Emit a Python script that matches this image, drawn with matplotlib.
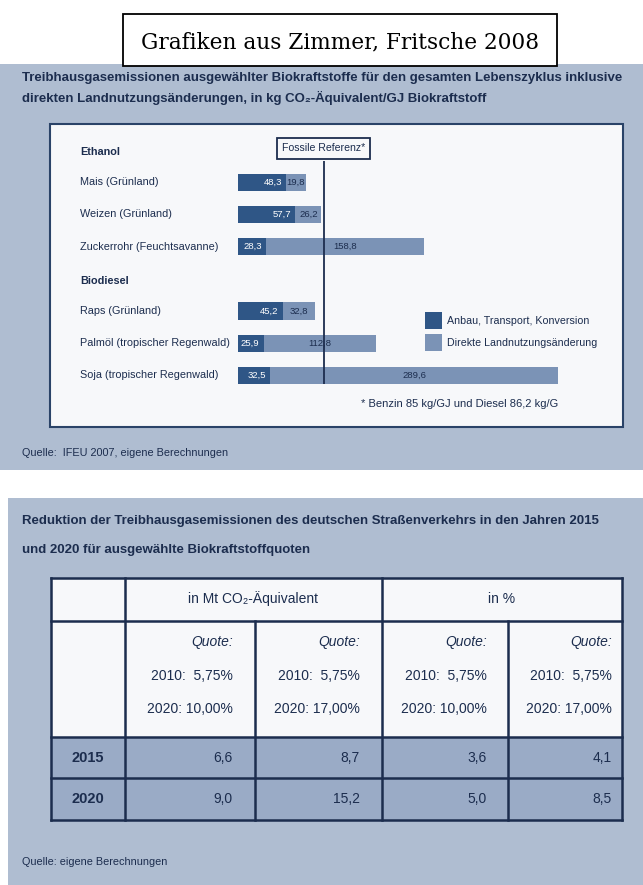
import matplotlib.pyplot as plt
from matplotlib.patches import Rectangle
from matplotlib.transforms import blended_transform_factory

plt.rcParams['font.family'] = ['Liberation Sans', 'DejaVu Sans']

# Daten oben: THG-Emissionen in kg CO2-Äq/GJ
groups = ['Ethanol', 'Biodiesel']
categories = ['Mais (Grünland)', 'Weizen (Grünland)', 'Zuckerrohr (Feuchtsavanne)',
              'Raps (Grünland)', 'Palmöl (tropischer Regenwald)', 'Soja (tropischer Regenwald)']
anbau = [48.3, 57.7, 28.3, 45.2, 25.9, 32.5]
landnutzung = [19.8, 26.2, 158.8, 32.8, 112.8, 289.6]
fossil_ref = 86.2
legend_labels = ['Anbau, Transport, Konversion', 'Direkte Landnutzungsänderung']

# Daten unten: Reduktion
years = ['2015', '2020']
mt_co2 = [[6.6, 8.7], [9.0, 15.2]]
prozent = [[3.6, 4.1], [5.0, 8.5]]
quote_2010 = ['5,75%', '5,75%', '5,75%', '5,75%']
quote_2020 = ['10,00%', '17,00%', '10,00%', '17,00%']

# Farben
PANEL = '#afbdd1'
BOX = '#f7f8fa'
NAVY = '#1c2d4e'
DARK = '#2f5686'
LIGHT = '#7b93b6'
ROWBG = '#9aabc6'

W, H = 643, 885
fig = plt.figure(figsize=(W / 100, H / 100), dpi=100)
bg = fig.add_axes([0, 0, 1, 1])
bg.set_xlim(0, W)
bg.set_ylim(H, 0)
bg.axis('off')

def komma(v):
    return f'{v:.1f}'.replace('.', ',')

# ---------- oberes Panel ----------
bg.add_patch(Rectangle((0, 64), W, 406, fc=PANEL, ec='none'))
bg.add_patch(Rectangle((123, 14), 434, 52, fc='white', ec='black', lw=1.3, zorder=3))
bg.text(340, 42, 'Grafiken aus Zimmer, Fritsche 2008', ha='center', va='center',
        fontsize=15.6, family='DejaVu Serif', zorder=4)

bg.text(22, 78, 'Treibhausgasemissionen ausgewählter Biokraftstoffe für den gesamten Lebenszyklus inklusive',
        fontsize=9.55, weight='bold', color=NAVY, va='center')
bg.text(22, 98, 'direkten Landnutzungsänderungen, in kg CO₂-Äquivalent/GJ Biokraftstoff',
        fontsize=9.55, weight='bold', color=NAVY, va='center')
bg.add_patch(Rectangle((50, 124), 573, 303, fc=BOX, ec='#2a4368', lw=1.5))
bg.text(22, 453, 'Quelle:  IFEU 2007, eigene Berechnungen', fontsize=7.8, color=NAVY, va='center')

# Balkendiagramm
x0, ppu, xmax = 238, 0.993, 335
y0, dy, ytop, ybot = 150, 32.2, -0.5, 7.6
ax = fig.add_axes([x0 / W, 1 - (y0 + ybot * dy) / H, xmax * ppu / W, (ybot - ytop) * dy / H])
ax.set_xlim(0, xmax)
ax.set_ylim(ybot, ytop)
ax.axis('off')
ax.patch.set_alpha(0)

rows = [1, 2, 3, 5, 6, 7]
group_rows = [0, 4]
ax.barh(rows, anbau, height=0.53, color=DARK)
ax.barh(rows, landnutzung, left=anbau, height=0.53, color=LIGHT)
for r, a, l in zip(rows, anbau, landnutzung):
    ax.annotate(komma(a), (a, r), xytext=(-3, 0), textcoords='offset points',
                ha='right', va='center', color='white', fontsize=6.8)
    ax.text(a + l / 2, r, komma(l), ha='center', va='center', color=NAVY, fontsize=6.8)

ax.vlines(fossil_ref, 0.33, 7.265, color=NAVY, lw=1.3)
ax.text(fossil_ref, -0.05, 'Fossile Referenz*', ha='center', va='center', fontsize=7.6,
        color=NAVY, bbox=dict(boxstyle='square,pad=0.5', fc=BOX, ec=NAVY, lw=1.3))

trans = blended_transform_factory(bg.transData, ax.transData)
for r, lab in zip(rows, categories):
    ax.text(80, r, lab, transform=trans, ha='left', va='center', fontsize=7.8, color=NAVY)
for r, g in zip(group_rows, groups):
    ax.text(80, r + 0.06, g, transform=trans, ha='left', va='center', fontsize=7.8,
            weight='bold', color=NAVY)

for i, (lab, c) in enumerate(zip(legend_labels, [DARK, LIGHT])):
    bg.add_patch(Rectangle((425, 312 + i * 22), 17, 17, fc=c, ec='none'))
    bg.text(447, 320.5 + i * 22, lab, fontsize=7.7, color=NAVY, va='center')
bg.text(558, 404, '* Benzin 85 kg/GJ und Diesel 86,2 kg/G', ha='right', va='center',
        fontsize=8, color=NAVY)

# ---------- unteres Panel ----------
bg.add_patch(Rectangle((8, 498), W - 8, H - 498, fc=PANEL, ec='none'))
bg.text(22, 521, 'Reduktion der Treibhausgasemissionen des deutschen Straßenverkehrs in den Jahren 2015',
        fontsize=9.5, weight='bold', color=NAVY, va='center')
bg.text(22, 550, 'und 2020 für ausgewählte Biokraftstoffquoten',
        fontsize=9.5, weight='bold', color=NAVY, va='center')
bg.text(22, 862, 'Quelle: eigene Berechnungen', fontsize=7.8, color=NAVY, va='center')

cols = [51, 125, 255, 382, 508, 622]
trows = [578, 621, 737, 778, 820]
right = [233, 360, 487, 612]

bg.add_patch(Rectangle((cols[0], trows[0]), cols[-1] - cols[0], trows[2] - trows[0], fc=BOX, ec='none'))
bg.add_patch(Rectangle((cols[0], trows[2]), cols[-1] - cols[0], trows[4] - trows[2], fc=ROWBG, ec='none'))
lw = 1.8
for y in trows:
    bg.plot([cols[0], cols[-1]], [y, y], color=NAVY, lw=lw, solid_capstyle='projecting')
for k, x in enumerate(cols):
    top = trows[1] if k in (2, 4) else trows[0]
    bg.plot([x, x], [top, trows[-1]], color=NAVY, lw=lw, solid_capstyle='projecting')

fs = 10
bg.text((cols[1] + cols[3]) / 2, 599, 'in Mt CO₂-Äquivalent', ha='center', va='center',
        fontsize=fs, color=NAVY)
bg.text((cols[3] + cols[5]) / 2, 599, 'in %', ha='center', va='center', fontsize=fs, color=NAVY)

for j in range(4):
    bg.text(right[j], 642, 'Quote:', ha='right', va='center', fontsize=fs, style='italic', color=NAVY)
    bg.text(right[j], 676, '2010:  ' + quote_2010[j], ha='right', va='center', fontsize=fs, color=NAVY)
    bg.text(right[j], 709, '2020: ' + quote_2020[j], ha='right', va='center', fontsize=fs, color=NAVY)

for i, yr in enumerate(years):
    yc = (trows[2 + i] + trows[3 + i]) / 2
    bg.text((cols[0] + cols[1]) / 2, yc, yr, ha='center', va='center', fontsize=10.5,
            weight='bold', color=NAVY)
    vals = mt_co2[i] + prozent[i]
    for j, v in enumerate(vals):
        bg.text(right[j], yc, komma(v), ha='right', va='center', fontsize=fs, color=NAVY)

fig.savefig('out.png', dpi=100)
